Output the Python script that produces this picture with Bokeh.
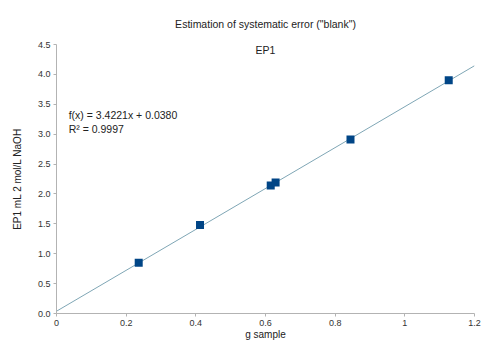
from bokeh.plotting import figure
from bokeh.models import FixedTicker, Label, Range1d
from bokeh.embed import file_html
from bokeh.resources import INLINE

# data
g_sample = [0.236, 0.412, 0.615, 0.629, 0.844, 1.126]
ep1_ml = [0.85, 1.48, 2.14, 2.19, 2.91, 3.90]
slope = 3.4221
intercept = 0.0380
fit_x = [0.0, 1.2]
fit_y = [slope * v + intercept for v in fit_x]
x_ticks = [0, 0.2, 0.4, 0.6, 0.8, 1.0, 1.2]
x_tick_labels = ["0", "0.2", "0.4", "0.6", "0.8", "1", "1.2"]
y_ticks = [0, 0.5, 1.0, 1.5, 2.0, 2.5, 3.0, 3.5, 4.0, 4.5]
y_tick_labels = ["0.0", "0.5", "1.0", "1.5", "2.0", "2.5", "3.0", "3.5", "4.0", "4.5"]
title_text = 'Estimation of systematic error ("blank")'

FONT = "Liberation Sans"
AX = "#b3b3b3"

p = figure(width=499, height=342, output_backend="svg", toolbar_location=None,
           x_range=Range1d(0, 1.2), y_range=Range1d(0, 4.5),
           min_border_left=56, min_border_right=25, min_border_top=43, min_border_bottom=28)
p.outline_line_color = None
p.xgrid.grid_line_color = None
p.ygrid.grid_line_color = None

p.title.text = title_text
p.title.align = "center"
p.title.text_font = FONT
p.title.text_font_size = "10.5px"
p.title.text_font_style = "normal"
p.title.text_color = "#222222"
p.title.standoff = 30

for ax in (p.xaxis[0], p.yaxis[0]):
    ax.axis_line_color = AX
    ax.major_tick_line_color = AX
    ax.major_tick_in = 0
    ax.major_tick_out = 3
    ax.minor_tick_line_color = None
    ax.major_label_text_font = FONT
    ax.major_label_text_font_size = "9px"
    ax.major_label_text_color = "#333333"
    ax.axis_label_text_font = FONT
    ax.axis_label_text_font_size = "10px"
    ax.axis_label_text_font_style = "normal"
    ax.axis_label_text_color = "#222222"
    ax.major_label_standoff = 3
    ax.axis_label_standoff = 0

p.yaxis[0].axis_label_standoff = 12

p.xaxis.ticker = FixedTicker(ticks=x_ticks)
p.xaxis.major_label_overrides = {t: l for t, l in zip(x_ticks, x_tick_labels)}
p.yaxis.ticker = FixedTicker(ticks=y_ticks)
p.yaxis.major_label_overrides = {t: l for t, l in zip(y_ticks, y_tick_labels)}
p.xaxis.axis_label = "g sample"
p.yaxis.axis_label = "EP1 mL 2 mol/L NaOH"

p.line(fit_x, fit_y, line_color="#7fa6b5", line_width=1)
p.scatter(g_sample, ep1_ml, marker="square", size=8, fill_color="#004586", line_color=None)

p.add_layout(Label(x=0.6, y=4.41, text="EP1", text_font=FONT, text_font_size="10.5px",
                   text_color="#222222", text_align="center", text_baseline="middle"))
p.add_layout(Label(x=0.035, y=3.32, text="f(x) = 3.4221x + 0.0380", text_font=FONT,
                   text_font_size="10.5px", text_color="#222222", text_baseline="middle"))
p.add_layout(Label(x=0.035, y=3.09, text="R² = 0.9997", text_font=FONT,
                   text_font_size="10.5px", text_color="#222222", text_baseline="middle"))

open("out.html", "w").write(file_html(p, INLINE))
